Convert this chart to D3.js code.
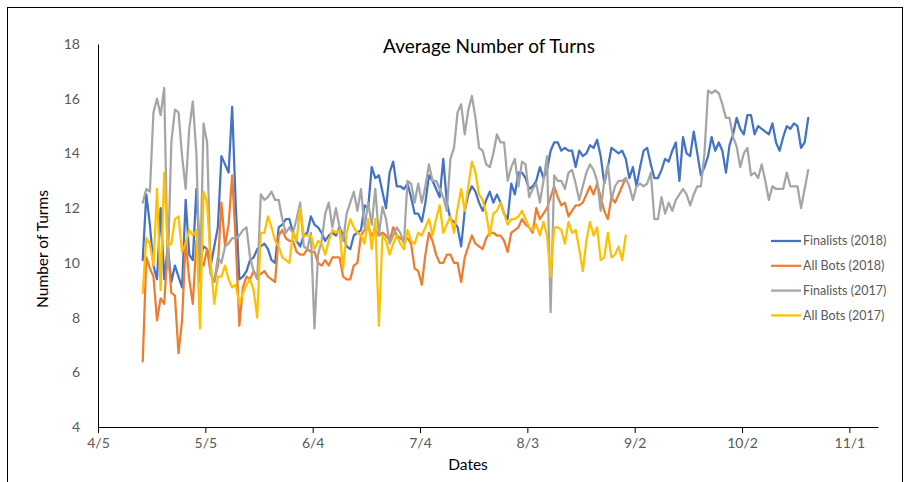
<!DOCTYPE html>
<html><head><meta charset="utf-8">
<script src="https://cdn.jsdelivr.net/npm/d3@7"></script>
<style>body{margin:0;background:#fff}svg{display:block}</style>
</head><body><svg id="c" width="908" height="482"></svg>
<script>
// ---- data ----
const startDate = "2018-04-17";           // first daily value of every series
const axisStart = "2018-04-05";
const axisEnd = "2018-11-09";
const chartTitle = "Average Number of Turns";
const xTitle = "Dates";
const yTitle = "Number of Turms";
const seriesNames = ["Finalists (2018)", "All Bots (2018)", "Finalists (2017)", "All Bots (2017)"];
const seriesColors = ["#4472C4", "#ED7D31", "#A5A5A5", "#FFC000"];
const xTickDates = ["2018-04-05","2018-05-05","2018-06-04","2018-07-04","2018-08-03","2018-09-02","2018-10-02","2018-11-01"];
const xTickLabels = ["4/5","5/5","6/4","7/4","8/3","9/2","10/2","11/1"];
const yTicks = [4, 6, 8, 10, 12, 14, 16, 18];

const finalists2018 = [
 10.1,12.5,11.4,9.9,9.4,12.0,9.4,10.6,9.3,9.9,9.5,9.1,12.3,10.3,10.1,12.7,10.2,10.6,10.5,9.9,10.6,11.3,13.9,13.6,13.3,15.7,12.1,9.4,9.5,9.7,
 10.1,10.2,10.5,10.6,10.7,10.5,10.1,10.0,11.3,11.4,11.6,11.6,11.1,10.8,10.6,11.0,11.1,11.7,11.4,11.3,11.1,10.8,11.0,11.1,11.0,11.3,11.0,10.6,10.5,11.0,11.1,
 11.2,12.1,12.0,13.5,13.1,13.2,12.6,12.0,13.3,13.7,12.8,12.8,12.7,12.9,12.4,11.8,11.8,11.5,12.2,13.2,13.0,12.7,12.4,13.8,12.2,11.6,11.5,11.3,10.6,11.9,12.5,
 12.8,12.6,12.2,11.9,12.3,12.6,12.2,12.5,12.2,11.8,11.6,12.9,12.5,13.3,13.3,13.1,12.7,12.8,13.0,13.5,13.1,13.4,14.1,14.4,14.4,14.1,14.2,14.1,14.1,13.5,
 14.1,13.9,14.0,14.3,14.2,14.5,13.9,12.9,13.5,14.2,14.1,14.0,14.1,13.8,13.1,13.5,12.8,13.5,14.1,14.2,13.6,13.1,13.1,13.4,13.8,13.7,14.1,14.4,13.0,14.6,14.0,
 13.9,14.8,14.0,13.2,13.5,13.9,14.6,14.1,14.4,14.1,13.3,14.3,14.7,15.3,14.9,14.7,15.4,15.4,14.7,15.0,14.9,14.8,14.7,15.1,14.4,14.1,14.6,15.0,14.9,15.1,15.0,14.2,14.4,15.3
];
const allBots2018 = [
 6.4,10.2,9.8,9.5,7.9,8.7,8.5,10.6,8.9,8.8,6.7,7.9,10.8,9.4,8.5,10.8,10.1,9.9,10.5,9.6,9.3,9.9,12.2,10.6,11.4,13.2,10.8,7.7,9.1,9.5,
 9.4,9.7,9.5,9.6,9.7,9.5,9.4,9.3,11.0,11.2,10.9,10.8,10.8,10.4,10.3,10.3,10.5,10.4,10.4,10.0,9.9,10.1,9.9,10.2,10.2,10.2,9.5,9.4,9.4,9.9,10.0,
 11.0,11.2,11.3,11.0,11.2,11.0,11.1,11.0,10.8,11.3,11.0,10.9,10.8,10.9,10.7,9.8,9.7,9.2,10.3,11.1,10.8,10.3,10.0,10.0,10.3,10.3,10.0,10.0,9.3,10.2,10.6,
 11.0,10.7,10.6,10.5,10.9,11.1,11.1,11.0,11.0,10.8,10.4,11.1,11.2,11.3,11.6,11.4,11.3,11.1,12.0,11.6,11.8,12.0,12.4,12.8,12.4,12.1,12.2,11.7,11.9,12.1,
 12.1,12.2,12.5,12.8,12.5,12.9,12.4,11.9,11.6,12.4,12.2,12.5,12.8,13.1
];
const finalists2017 = [
 12.2,12.7,12.6,15.5,16.0,15.4,16.4,9.8,14.4,15.6,15.5,13.9,12.7,14.9,15.9,14.0,9.3,15.1,14.4,9.6,9.3,10.2,10.0,10.6,10.7,10.9,10.9,11.0,11.2,11.3,
 10.2,9.7,9.4,12.5,12.3,12.4,12.6,12.3,12.3,11.6,11.1,11.3,11.1,11.6,12.2,10.6,10.5,11.1,7.6,10.3,10.8,11.8,12.2,11.3,12.0,11.3,10.8,11.8,12.2,12.6,11.9,
 12.7,11.3,12.2,11.4,12.7,11.0,12.05,11.6,10.7,11.0,11.3,11.1,10.7,13.0,12.9,12.2,12.9,12.2,12.8,13.6,13.0,13.0,12.7,12.4,11.9,13.8,14.2,15.5,15.8,14.7,15.6,
 16.1,15.3,14.2,14.1,13.6,13.5,14.0,14.7,14.4,14.4,13.0,13.5,13.8,12.8,13.7,13.6,12.4,12.7,12.9,12.2,13.0,13.9,8.2,13.2,13.0,13.0,12.7,13.3,
 13.4,12.9,12.3,12.8,13.3,13.6,13.4,13.0,11.9,13.0,13.6,12.3,12.8,13.0,13.0,13.1,12.8,12.3,12.8,12.9,12.8,12.9,13.3,11.6,11.6,12.4,11.8,12.2,11.9,12.3,
 12.5,12.7,12.5,12.1,12.5,12.8,12.8,14.0,16.3,16.2,16.3,16.2,15.8,15.3,15.3,14.6,14.25,13.5,14.0,14.2,13.2,13.3,13.1,13.6,13.0,12.3,12.8,12.7,12.7,12.7,13.3,12.8,12.8,12.8,12.0,12.7,13.4
];
const allBots2017 = [
 8.9,10.9,10.7,9.9,12.7,9.0,13.3,10.6,10.7,11.6,11.7,10.4,10.7,11.2,11.0,11.2,7.6,12.6,12.2,10.0,8.5,9.5,9.5,9.9,9.4,9.1,9.2,8.5,8.9,9.2,
 9.4,9.0,8.0,11.1,11.1,11.7,11.3,10.8,10.6,10.2,10.1,10.0,11.1,10.8,12.0,11.0,11.0,11.0,10.5,10.8,10.7,10.3,10.8,11.2,11.1,11.2,9.8,11.1,11.6,11.3,11.1,
 11.0,10.7,11.6,10.5,11.6,7.7,11.0,10.8,10.3,10.7,11.0,10.7,10.5,11.2,10.8,10.7,11.1,11.0,11.3,11.6,11.0,11.6,12.1,11.1,11.4,11.7,11.1,12.0,12.7,11.9,12.8,
 13.7,13.3,12.5,12.3,11.8,11.0,11.8,11.9,12.2,11.8,11.4,11.6,11.6,11.7,11.9,11.6,11.3,11.2,11.4,11.0,11.5,11.0,9.5,11.3,11.3,11.2,10.7,11.5,11.1,11.2,
 10.5,9.7,10.8,11.5,11.0,11.3,10.1,10.2,11.1,10.2,10.3,10.6,10.1,11.0
];
const seriesValues = [finalists2018, allBots2018, finalists2017, allBots2017];

// ---- drawing ----
const FONT = "Lato, 'Open Sans', sans-serif";
const svg = d3.select("#c");
const parse = d3.utcParse("%Y-%m-%d");
const x = d3.scaleUtc().domain([parse(axisStart), parse(axisEnd)]).range([98, 878]);
const y = d3.scaleLinear().domain([4, 18]).range([427, 44]);
const start = parse(startDate);
// Excel date axis: each day is a band; points sit in the middle of their day
const dayAt = i => d3.utcHour.offset(d3.utcDay.offset(start, i), 12);

svg.append("rect").attr("x", 7.5).attr("y", 7.5).attr("width", 895).attr("height", 495)
  .attr("fill", "#fff").attr("stroke", "#000").attr("stroke-width", 1);

// x axis
const xAxis = svg.append("g").attr("transform", "translate(0,427)")
  .call(d3.axisBottom(x).tickValues(xTickDates.map(parse))
    .tickFormat((d, i) => xTickLabels[i]).tickSize(6).tickSizeOuter(0).tickPadding(5));
xAxis.select(".domain").attr("stroke", "#000");
xAxis.selectAll(".tick line").attr("stroke", "#000");
xAxis.selectAll("text").attr("font-family", FONT).attr("font-size", 14).attr("fill", "#595959");

// y axis
const yAxis = svg.append("g").attr("transform", "translate(98,0)")
  .call(d3.axisLeft(y).tickValues(yTicks).tickSize(0).tickPadding(18).tickSizeOuter(0));
yAxis.select(".domain").attr("stroke", "#000");
yAxis.selectAll("text").attr("font-family", FONT).attr("font-size", 14).attr("fill", "#595959");

// lines
const line = d3.line().x((d, i) => x(dayAt(i))).y(d => y(d));
seriesValues.forEach((vals, k) => {
  svg.append("path").datum(vals).attr("d", line).attr("fill", "none")
    .attr("stroke", seriesColors[k]).attr("stroke-width", 2.25)
    .attr("stroke-linejoin", "round").attr("stroke-linecap", "round");
});

// titles
svg.append("text").attr("x", 489).attr("y", 53).attr("text-anchor", "middle")
  .attr("font-family", FONT).attr("font-size", 19).attr("fill", "#000").text(chartTitle);
svg.append("text").attr("x", 468).attr("y", 470).attr("text-anchor", "middle")
  .attr("font-family", FONT).attr("font-size", 15.5).attr("fill", "#000").text(xTitle);
svg.append("text").attr("transform", "translate(47.5,249) rotate(-90)").attr("text-anchor", "middle")
  .attr("font-family", FONT).attr("font-size", 15.5).attr("fill", "#000").text(yTitle);

// legend
const legend = svg.append("g");
seriesNames.forEach((name, k) => {
  const ly = 241 + k * 24.8;
  legend.append("line").attr("x1", 771).attr("x2", 801).attr("y1", ly).attr("y2", ly)
    .attr("stroke", seriesColors[k]).attr("stroke-width", 2.25);
  legend.append("text").attr("x", 803).attr("y", ly).attr("dy", "0.35em")
    .attr("font-family", FONT).attr("font-size", 12.5).attr("fill", "#595959").text(name);
});
</script></body></html>
